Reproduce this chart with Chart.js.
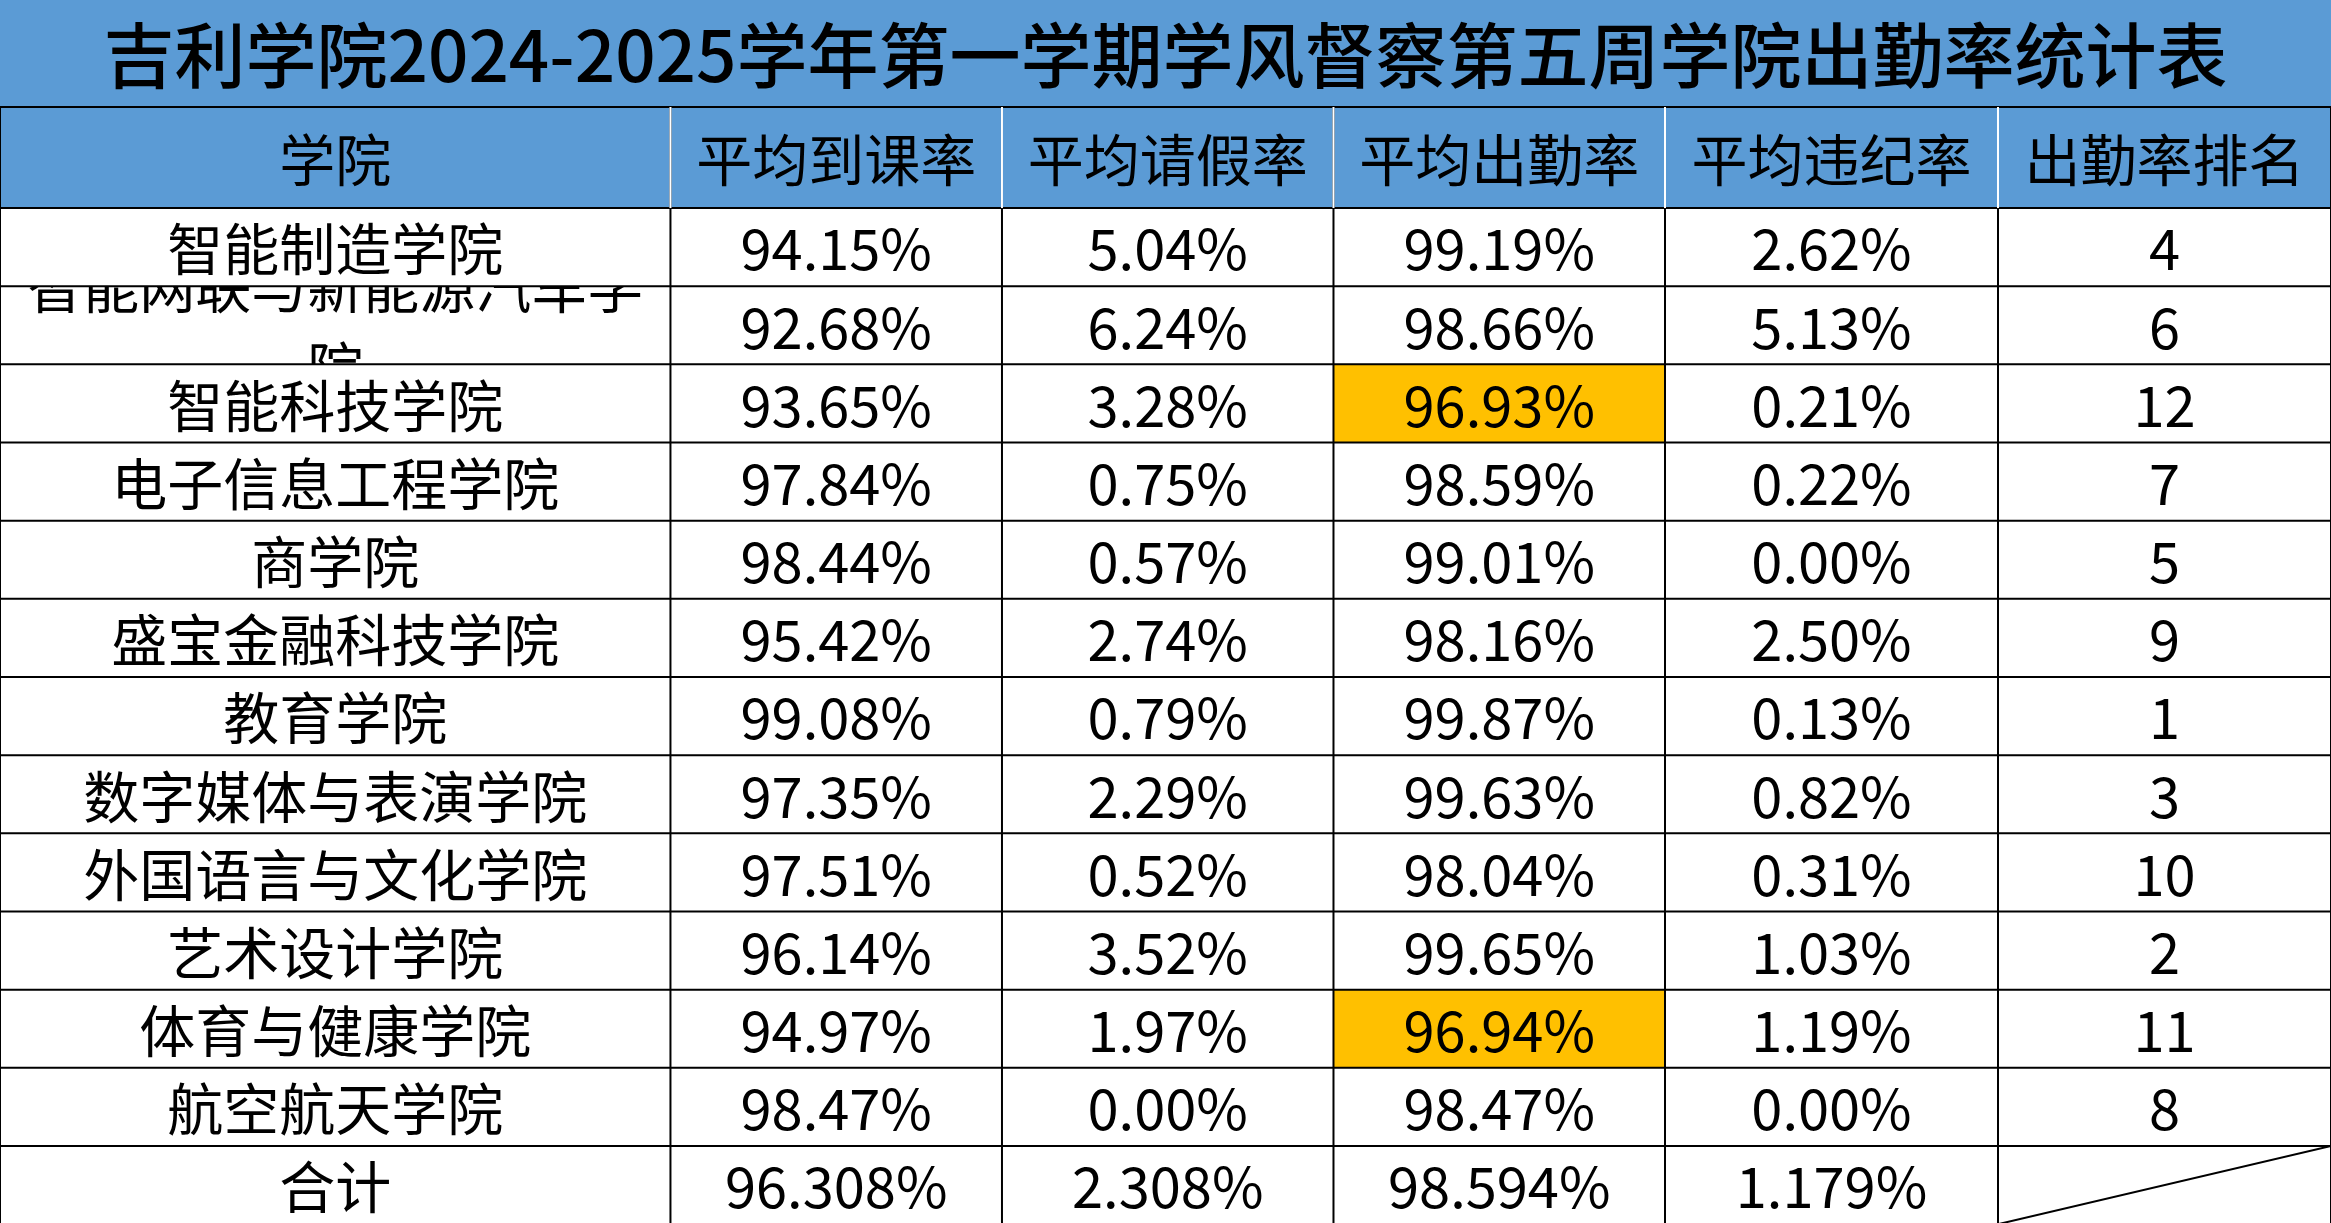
<!DOCTYPE html>
<html>
<head>
<meta charset="utf-8">
<script src="https://cdn.jsdelivr.net/npm/chart.js@4"></script>
<style>
  html, body { margin: 0; padding: 0; background: #fff; }
  #wrap { width: 2331px; height: 1223px; }
</style>
</head>
<body>
<div id="wrap"><canvas id="tbl"></canvas></div>
<script>
/* 出勤率统计表 - 用 Chart.js 的坐标轴来定位每个单元格 */
const title = '吉利学院2024-2025学年第一学期学风督察第五周学院出勤率统计表';
const headers = ['学院', '平均到课率', '平均请假率', '平均出勤率', '平均违纪率', '出勤率排名'];
const colleges = ['智能制造学院', '智能网联与新能源汽车学院', '智能科技学院', '电子信息工程学院', '商学院',
    '盛宝金融科技学院', '教育学院', '数字媒体与表演学院', '外国语言与文化学院', '艺术设计学院', '体育与健康学院', '航空航天学院'];
const daoke = ['94.15%', '92.68%', '93.65%', '97.84%', '98.44%', '95.42%', '99.08%', '97.35%', '97.51%', '96.14%', '94.97%', '98.47%'];
const qingjia = ['5.04%', '6.24%', '3.28%', '0.75%', '0.57%', '2.74%', '0.79%', '2.29%', '0.52%', '3.52%', '1.97%', '0.00%'];
const chuqin = ['99.19%', '98.66%', '96.93%', '98.59%', '99.01%', '98.16%', '99.87%', '99.63%', '98.04%', '99.65%', '96.94%', '98.47%'];
const weiji = ['2.62%', '5.13%', '0.21%', '0.22%', '0.00%', '2.50%', '0.13%', '0.82%', '0.31%', '1.03%', '1.19%', '0.00%'];
const paiming = ['4', '6', '12', '7', '5', '9', '1', '3', '10', '2', '11', '8'];
const totalRow = ['合计', '96.308%', '2.308%', '98.594%', '1.179%', ''];

// 布局 (坐标轴单位)
const colEdges = [0, 451, 674, 897, 1120, 1344, 1568];
const titleH = 72, headH = 68, rowH = 52.6;
const lowLimit = 97; // 出勤率低于此值标黄

const FONT = '"Noto Sans CJK SC", "Noto Sans", sans-serif';

const tablePlugin = {
    id: 'tablePlugin',
    afterDraw(chart) {
        const ctx = chart.ctx, sx = chart.scales.x, sy = chart.scales.y;
        const X = v => sx.getPixelForValue(v), Y = v => sy.getPixelForValue(v);
        const rows = colleges.map((c, i) => [c, daoke[i], qingjia[i], chuqin[i], weiji[i], paiming[i]]);
        rows.push(totalRow);
        const bodyTop = titleH + headH, bottom = bodyTop + rowH * rows.length;
        ctx.save();

        // 背景
        ctx.fillStyle = '#5B9BD5';
        ctx.fillRect(X(0), Y(0), X(1568) - X(0), Y(bodyTop) - Y(0));
        chuqin.forEach((v, i) => {
            if (parseFloat(v) < lowLimit) {
                ctx.fillStyle = '#FFC000';
                const y0 = bodyTop + i * rowH;
                ctx.fillRect(X(colEdges[3]), Y(y0), X(colEdges[4]) - X(colEdges[3]), Y(y0 + rowH) - Y(y0));
            }
        });

        // 文字
        const cellText = (txt, c, y0, h, size) => {
            const x0 = X(colEdges[c]), x1 = X(colEdges[c + 1]);
            const cx = (x0 + x1) / 2, cy = (Y(y0) + Y(y0 + h)) / 2 + 2;
            ctx.font = `${size}px ${FONT}`;
            if (ctx.measureText(txt).width > x1 - x0 - 6) {
                // 超宽则换行并裁剪
                ctx.save();
                ctx.beginPath(); ctx.rect(x0, Y(y0), x1 - x0, Y(y0 + h) - Y(y0)); ctx.clip();
                let line = '', lines = [];
                for (const ch of txt) {
                    if (ctx.measureText(line + ch).width > x1 - x0 - 6) { lines.push(line); line = ch; }
                    else line += ch;
                }
                lines.push(line);
                ctx.fillText(lines[0], cx, cy - size * 0.72);
                ctx.fillText(lines[1] || '', cx, cy + size * 0.72);
                ctx.restore();
            } else ctx.fillText(txt, cx, cy);
        };
        ctx.fillStyle = '#000'; ctx.textAlign = 'center'; ctx.textBaseline = 'middle';
        ctx.font = `500 71px ${FONT}`;
        ctx.fillText(title, X(784), (Y(0) + Y(titleH)) / 2 + 2);
        headers.forEach((h, c) => cellText(h, c, titleH, headH, 56));
        rows.forEach((r, i) => r.forEach((t, c) => cellText(t, c, bodyTop + i * rowH, rowH, 56)));

        // 网格线
        ctx.strokeStyle = '#000'; ctx.lineWidth = 2;
        ctx.beginPath();
        ctx.moveTo(X(0), Y(titleH)); ctx.lineTo(X(1568), Y(titleH));
        for (let i = 0; i <= rows.length; i++) {
            const y = Y(bodyTop + i * rowH);
            ctx.moveTo(X(0), y); ctx.lineTo(X(1568), y);
        }
        colEdges.forEach(cx => { ctx.moveTo(X(cx), Y(titleH)); ctx.lineTo(X(cx), Y(bottom)); });
        // 合计行排名单元格斜线
        ctx.moveTo(X(colEdges[5]), Y(bottom)); ctx.lineTo(X(colEdges[6]), Y(bottom - rowH));
        ctx.stroke();
        ctx.strokeStyle = '#fff'; ctx.lineWidth = 2;
        ctx.beginPath();
        colEdges.slice(1, -1).forEach(cx => { ctx.moveTo(X(cx), Y(titleH)); ctx.lineTo(X(cx), Y(bodyTop)); });
        ctx.stroke();
        ctx.restore();
    }
};

new Chart(document.getElementById('tbl'), {
    type: 'scatter',
    data: { datasets: [{ data: [] }] },
    options: {
        responsive: true, maintainAspectRatio: false, animation: false,
        layout: { padding: 0 },
        scales: {
            x: { type: 'linear', min: 0, max: 1568, display: false },
            y: { type: 'linear', min: 0, max: 823, reverse: true, display: false }
        },
        plugins: { legend: { display: false }, tooltip: { enabled: false } }
    },
    plugins: [tablePlugin]
});
</script>
</body>
</html>
